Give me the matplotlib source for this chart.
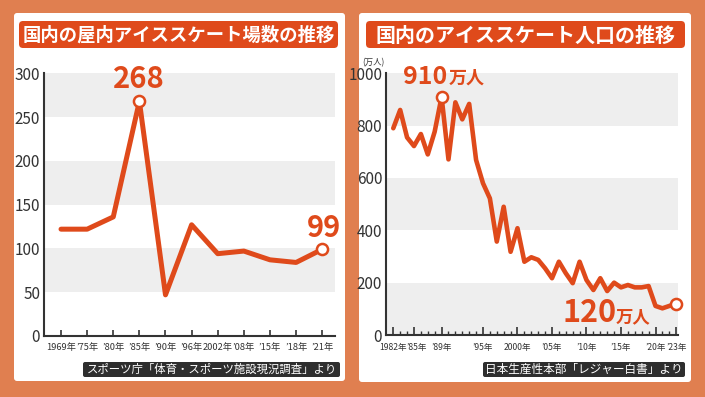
import matplotlib
matplotlib.use("Agg")
import matplotlib.pyplot as plt
from matplotlib.patches import FancyBboxPatch
from matplotlib.transforms import ScaledTranslation

W, H = 705, 397

# indoor ice rinks (left)
rink_labels = ["1969年", "’75年", "’80年", "’85年", "’90年", "’96年",
               "2002年", "’08年", "’15年", "’18年", "’21年"]
rink_counts = [122, 122, 136, 268, 47, 127, 94, 97, 87, 84, 99]

# skating population, 10k people (right)
pop_years = list(range(1982, 2024))
pop_values = [790, 860, 755, 722, 768, 690, 777, 910, 671, 889,
              824, 883, 669, 580, 522, 357, 490, 318, 408, 280,
              297, 287, 255, 217, 280, 236, 198, 280, 210, 172,
              217, 168, 200, 182, 191, 182, 182, 187, 111, 102,
              111, 120]
pop_ticks = [1982, 1985, 1989, 1995, 2000, 2005, 2010, 2015, 2020, 2023]
pop_tick_labels = ["1982年", "’85年", "’89年", "’95年", "2000年",
                   "’05年", "’10年", "’15年", "’20年", "’23年"]

BG = "#E07F50"
RED = "#DF4A1B"
BAND = "#EEEEEE"
DARK = "#333333"
CJK = ["Noto Sans CJK JP", "DejaVu Sans"]
NARROW = ["Liberation Sans Narrow", "Noto Sans CJK JP"]
NUM = ["Noto Sans CJK JP", "DejaVu Sans"]


def fx(x):
    return x / W


def fy(y):
    return 1 - y / H


def box(fig, x0, y0, x1, y1, color, pad=4, z=1):
    fig.patches.append(FancyBboxPatch((fx(x0), fy(y1)), fx(x1) - fx(x0), fy(y0) - fy(y1),
                                      boxstyle=f"round,pad=0,rounding_size={pad / W}",
                                      transform=fig.transFigure, facecolor=color,
                                      edgecolor="none", mutation_aspect=W / H, zorder=z))


def axes_px(fig, x0, y0, x1, y1):
    return fig.add_axes([fx(x0), fy(y1), fx(x1) - fx(x0), fy(y0) - fy(y1)])


def style_axes(ax):
    ax.set_facecolor("none")
    for s in ["top", "right"]:
        ax.spines[s].set_visible(False)
    for s in ["left", "bottom"]:
        ax.spines[s].set_color(DARK)
        ax.spines[s].set_linewidth(1.5)
    ax.tick_params(axis="y", length=0, pad=3, colors=DARK)


fig = plt.figure(figsize=(W / 100, H / 100), dpi=100)
fig.patch.set_facecolor(BG)

# white panels (behind axes), title bars, source bars
box(fig, 14, 13, 345, 381, "white", 3, z=-1)
box(fig, 359, 13, 691, 382, "white", 3, z=-1)
box(fig, 19, 21, 338, 48, RED, 4)
box(fig, 366, 21, 685, 48, RED, 4)
box(fig, 83, 362, 340, 377, "#2E2E2E", 2)
box(fig, 483, 362, 685, 377, "#2E2E2E", 2)

fig.text(fx(178.5), fy(35), "国内の屋内アイススケート場数の推移", color="white",
         fontsize=13.2, fontweight="bold", family=CJK, ha="center", va="center")
fig.text(fx(525.5), fy(35), "国内のアイススケート人口の推移", color="white",
         fontsize=14.4, fontweight="bold", family=CJK, ha="center", va="center")
fig.text(fx(211.5), fy(369.5), "スポーツ庁「体育・スポーツ施設現況調査」より", color="white",
         fontsize=8.2, family=CJK, ha="center", va="center")
fig.text(fx(584), fy(369.5), "日本生産性本部「レジャー白書」より", color="white",
         fontsize=8.4, family=CJK, ha="center", va="center")

# ---- left chart
ax1 = axes_px(fig, 44.3, 73.3, 335, 336)
style_axes(ax1)
xs = list(range(len(rink_counts)))
ax1.set_xlim(-0.64, 10.49)
ax1.set_ylim(0, 300)
for lo in [50, 150, 250]:
    ax1.axhspan(lo, lo + 50, color=BAND, lw=0, zorder=0)
ax1.plot(xs, rink_counts, color=RED, lw=3.6, solid_joinstyle="round",
         solid_capstyle="round", zorder=3)
for i in [3, 10]:
    ax1.plot(xs[i], rink_counts[i], "o", ms=8, mfc="white", mec=RED, mew=1.8,
             zorder=4, clip_on=False)
ax1.set_yticks(range(0, 301, 50))
ax1.set_xticks(xs)
ax1.set_xticklabels(rink_labels, family=NARROW, fontsize=6.7, color=DARK)
ax1.tick_params(axis="x", direction="in", length=4, width=1.2, color=DARK, pad=5)
for t in ax1.get_yticklabels():
    t.set_family(NARROW)
    t.set_fontsize(11)

fig.text(fx(138.5), fy(88), str(rink_counts[3]), color=RED, fontsize=21,
         fontweight="bold", family=NUM, ha="center", va="baseline")
fig.text(fx(323.5), fy(237), str(rink_counts[10]), color=RED, fontsize=21,
         fontweight="bold", family=NUM, ha="center", va="baseline")

# ---- right chart
ax2 = axes_px(fig, 386.3, 73.3, 678, 335)
style_axes(ax2)
ax2.set_xlim(1980.99, 2023.26)
ax2.set_ylim(0, 1000)
for lo in [0, 400, 800]:
    ax2.axhspan(lo, lo + 200, color=BAND, lw=0, zorder=0)
ax2.plot(pop_years, pop_values, color=RED, lw=3.3, solid_joinstyle="round",
         solid_capstyle="round", zorder=3)
for yr in [1989, 2023]:
    ax2.plot(yr, pop_values[pop_years.index(yr)], "o", ms=8, mfc="white", mec=RED,
             mew=1.8, zorder=4, clip_on=False)
ax2.set_yticks(range(0, 1001, 200))
ax2.set_xticks(pop_ticks)
ax2.set_xticklabels(pop_tick_labels, family=NARROW, fontsize=6.2, color=DARK)
ax2.set_xticks(pop_years, minor=True)
ax2.tick_params(axis="x", which="major", direction="in", length=6, width=1.2,
                color=DARK, pad=6)
ax2.tick_params(axis="x", which="minor", direction="in", length=3, width=1.0, color=DARK)
for t in ax2.get_yticklabels():
    t.set_family(NARROW)
    t.set_fontsize(11)
# nudge the crowded '85 label away from 1982
xlabels = ax2.get_xticklabels()
xlabels[1].set_transform(xlabels[1].get_transform() + ScaledTranslation(3 / 100, 0, fig.dpi_scale_trans))
fig.text(fx(373), fy(63), "(万人)", color=DARK, fontsize=6, family=CJK,
         ha="center", va="center")

fig.text(fx(425), fy(83.5), "910", color=RED, fontsize=18, fontweight="bold",
         family=NUM, ha="center", va="baseline")
fig.text(fx(449), fy(83.5), "万人", color=RED, fontsize=13, fontweight="bold",
         family=CJK, ha="left", va="baseline")
fig.text(fx(590), fy(322), "120", color=RED, fontsize=22, fontweight="bold",
         family=NUM, ha="center", va="baseline")
fig.text(fx(616), fy(322), "万人", color=RED, fontsize=12.5, fontweight="bold",
         family=CJK, ha="left", va="baseline")

fig.savefig("out.png", dpi=100, facecolor=BG)
